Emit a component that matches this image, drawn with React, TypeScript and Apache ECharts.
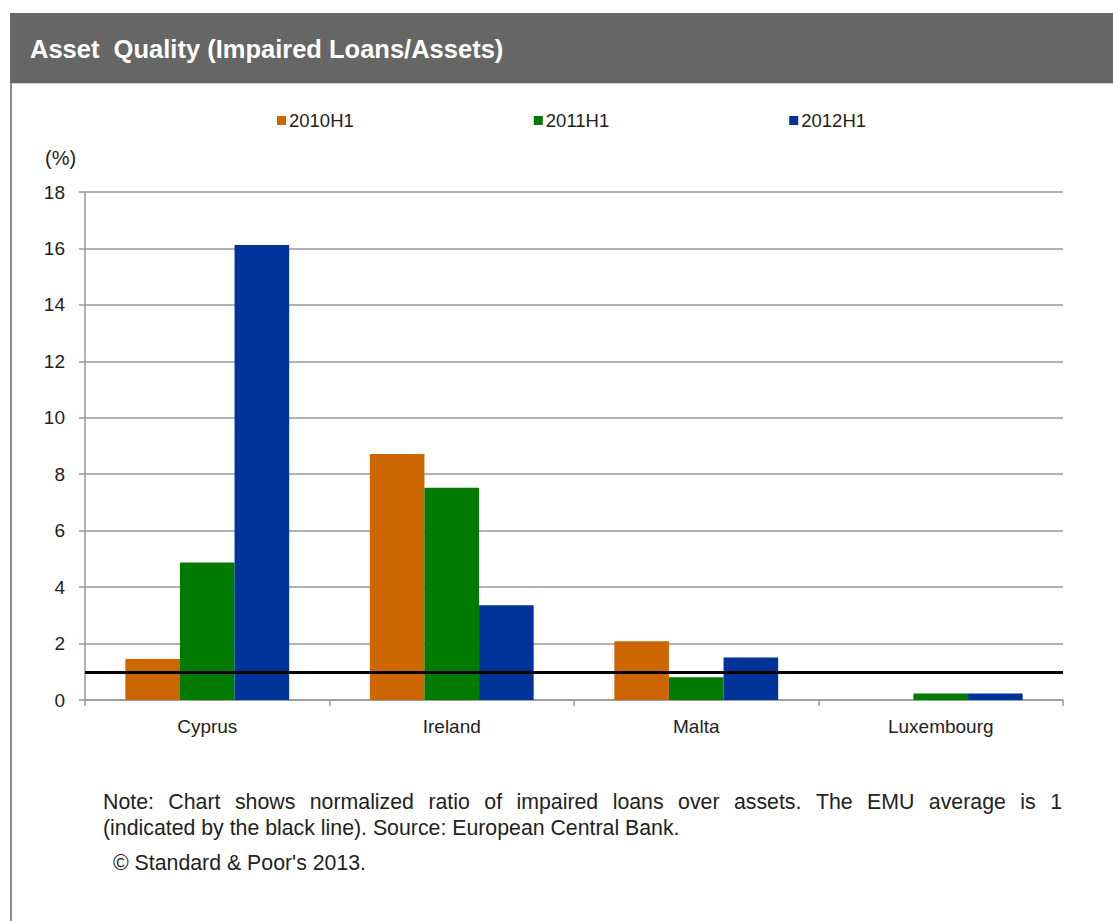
import React, { useEffect, useRef } from "react";
import * as echarts from "echarts";

const categories = ["Cyprus", "Ireland", "Malta", "Luxembourg"];
const seriesNames = ["2010H1", "2011H1", "2012H1"];
const values2010H1: (number | null)[] = [1.45, 8.72, 2.08, null];
const values2011H1: (number | null)[] = [4.87, 7.52, 0.81, 0.23];
const values2012H1: (number | null)[] = [16.12, 3.36, 1.51, 0.23];
const emuAverage = 1;
const yTicks = { min: 0, max: 18, interval: 2 };
const colors = ["#CC6600", "#007A00", "#003399"];

const titleText = "Asset  Quality (Impaired Loans/Assets)";
const noteLine1 = "Note: Chart shows normalized ratio of impaired loans over assets. The EMU average is 1";
const noteLine2 = "(indicated by the black line). Source: European Central Bank.";
const copyright = "\u00A9 Standard & Poor's 2013.";

const FONT = '"Liberation Sans", Arial, sans-serif';

function justifiedWords(line: string, x0: number, x1: number, y: number, size: number) {
  const words = line.split(" ");
  const canvas = document.createElement("canvas");
  const ctx = canvas.getContext("2d")!;
  ctx.font = `${size}px "Liberation Sans"`;
  const widths = words.map((w) => ctx.measureText(w).width);
  const total = widths.reduce((a, b) => a + b, 0);
  const gap = (x1 - x0 - total) / (words.length - 1);
  let x = x0;
  return words.map((w, i) => {
    const el = {
      type: "text",
      x,
      y,
      style: { text: w, fill: "#222", font: `${size}px ${FONT}`, textVerticalAlign: "middle" },
    };
    x += widths[i] + gap;
    return el;
  });
}

export default function App() {
  const ref = useRef<HTMLDivElement>(null);
  useEffect(() => {
    document.body.style.margin = "0";
    const chart = echarts.init(ref.current!, null, { renderer: "svg" });
    const data = [values2010H1, values2011H1, values2012H1];
    const noteSize = 21.3;
    chart.setOption({
      animation: false,
      backgroundColor: "#fff",
      textStyle: { fontFamily: FONT },
      legend: {
        top: 106,
        left: 272,
        itemWidth: 9,
        itemHeight: 9,
        itemGap: 180,
        icon: "rect",
        textStyle: { fontSize: 18.5, color: "#222", fontFamily: FONT, padding: [0, 0, 0, -2] },
        data: seriesNames,
      },
      grid: { left: 85, right: 50, top: 192, bottom: 221 },
      xAxis: {
        type: "category",
        data: categories,
        axisLine: { lineStyle: { color: "#999", width: 1.5 } },
        axisTick: { show: true, length: 6, lineStyle: { color: "#999", width: 1.5 } },
        axisLabel: { fontSize: 19, color: "#222", margin: 17, fontFamily: FONT },
      },
      yAxis: {
        type: "value",
        min: yTicks.min,
        max: yTicks.max,
        interval: yTicks.interval,
        axisLine: { show: true, lineStyle: { color: "#999", width: 1.5 } },
        axisTick: { show: true, length: 6, lineStyle: { color: "#999", width: 1.5 } },
        axisLabel: { fontSize: 19, color: "#222", margin: 20, fontFamily: FONT },
        splitLine: { lineStyle: { color: "#999", width: 1.5 } },
      },
      series: seriesNames.map((name, i) => ({
        name,
        type: "bar",
        data: data[i],
        itemStyle: { color: colors[i] },
        barGap: "0%",
        barCategoryGap: "33%",
        ...(i === 2
          ? {
              markLine: {
                silent: true,
                symbol: "none",
                label: { show: false },
                lineStyle: { color: "#000", width: 3, type: "solid" },
                data: [{ yAxis: emuAverage }],
              },
            }
          : {}),
      })),
      graphic: [
        { type: "rect", shape: { x: 10, y: 13, width: 1103, height: 70 }, style: { fill: "#666666" } },
        { type: "line", shape: { x1: 10, y1: 83.5, x2: 1113, y2: 83.5 }, style: { stroke: "#cfcfcf", lineWidth: 1 } },
        { type: "line", shape: { x1: 11, y1: 83, x2: 11, y2: 921 }, style: { stroke: "#8a8a8a", lineWidth: 2 } },
        {
          type: "text",
          x: 30,
          y: 49,
          style: { text: titleText, fill: "#fff", font: `bold 25.5px ${FONT}`, textVerticalAlign: "middle" },
        },
        {
          type: "text",
          x: 45,
          y: 158,
          style: { text: "(%)", fill: "#222", font: `20px ${FONT}`, textVerticalAlign: "middle" },
        },
        ...justifiedWords(noteLine1, 103, 1062, 802, noteSize),
        {
          type: "text",
          x: 103,
          y: 828,
          style: { text: noteLine2, fill: "#222", font: `${noteSize}px ${FONT}`, textVerticalAlign: "middle" },
        },
        {
          type: "text",
          x: 113,
          y: 863,
          style: { text: copyright, fill: "#222", font: `${noteSize}px ${FONT}`, textVerticalAlign: "middle" },
        },
      ],
    });
    return () => chart.dispose();
  }, []);
  return <div ref={ref} style={{ width: 1113, height: 921 }} />;
}
